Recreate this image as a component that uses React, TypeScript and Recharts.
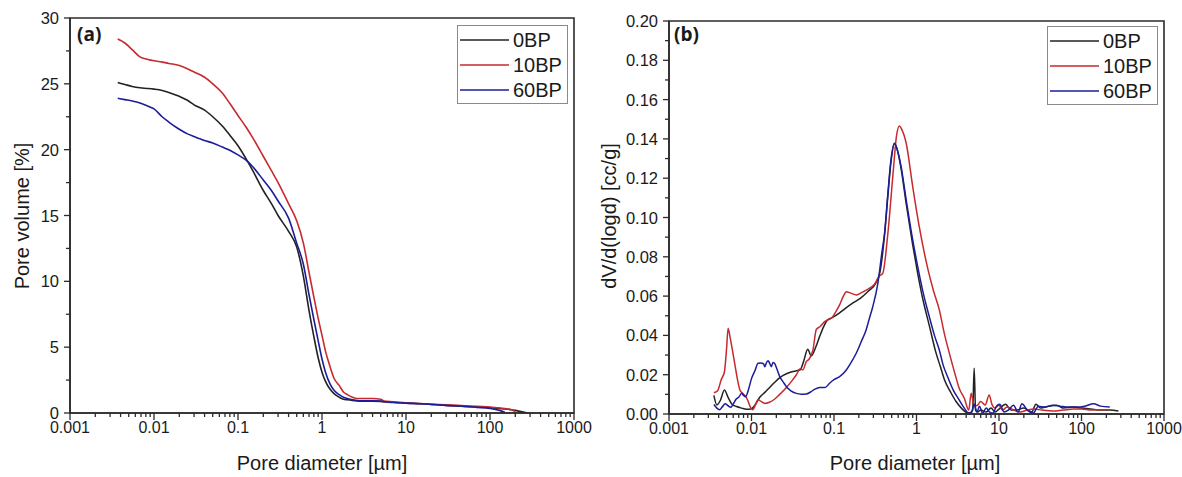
import { LineChart, Line, XAxis, YAxis, ReferenceArea, Legend } from "recharts";

const FONT = "'Liberation Sans', Arial, Helvetica, sans-serif";
const AXIS = "#2b2b2b";
const SERIES = ["0BP", "10BP", "60BP"];
const COLORS = ["#222222", "#c62a2f", "#1d1d9b"];

// log axis ticks
const xMajor = [0.001, 0.01, 0.1, 1, 10, 100, 1000];
const xMinor = [
  0.002, 0.003, 0.004, 0.005, 0.006, 0.007, 0.008, 0.009,
  0.02, 0.03, 0.04, 0.05, 0.06, 0.07, 0.08, 0.09,
  0.2, 0.3, 0.4, 0.5, 0.6, 0.7, 0.8, 0.9,
  2, 3, 4, 5, 6, 7, 8, 9,
  20, 30, 40, 50, 60, 70, 80, 90,
  200, 300, 400, 500, 600, 700, 800, 900,
];
const xTicks = [...xMajor, ...xMinor].sort((a, b) => a - b);

const yMajorA = [0, 5, 10, 15, 20, 25, 30];
const yMinorA = [2.5, 7.5, 12.5, 17.5, 22.5, 27.5];
const yMajorB = [0, 0.02, 0.04, 0.06, 0.08, 0.1, 0.12, 0.14, 0.16, 0.18, 0.2];
const yMinorB = [0.01, 0.03, 0.05, 0.07, 0.09, 0.11, 0.13, 0.15, 0.17, 0.19];

// (a) cumulative pore volume [%]
const diamA = [
  0.0037, 0.0045, 0.0055, 0.0068, 0.0085, 0.01, 0.0125, 0.015, 0.02, 0.025,
  0.03, 0.04, 0.05, 0.065, 0.08, 0.1, 0.125, 0.15, 0.2, 0.25,
  0.3, 0.4, 0.5, 0.6, 0.7, 0.8, 0.9, 1.0, 1.1, 1.25,
  1.4, 1.6, 1.8, 2.0, 2.3, 2.6, 3, 4, 5, 5.5,
  7, 10, 15, 20, 30, 50, 70, 100, 130, 150,
  180, 200, 240, 280,
];
const volA_0BP = [
  25.1, 24.95, 24.8, 24.7, 24.65, 24.6, 24.5, 24.35, 24.05, 23.75,
  23.4, 23.0, 22.5, 21.8, 21.1, 20.3, 19.3, 18.4, 16.9, 15.9,
  15.0, 13.8, 12.6, 10.4, 7.8, 5.8, 4.2, 3.1, 2.4, 1.8,
  1.45, 1.2, 1.05, 1.0, 0.95, 0.92, 0.9, 0.9, 0.88, 0.85,
  0.82, 0.75, 0.7, 0.65, 0.58, 0.5, 0.45, 0.4, 0.35, 0.3,
  0.25, 0.2, 0.1, 0.0,
];
const volA_10BP = [
  28.4, 28.1, 27.6, 27.05, 26.85, 26.75, 26.65, 26.55, 26.4, 26.15,
  25.9, 25.5, 25.0, 24.3, 23.5, 22.6, 21.7, 20.9, 19.5, 18.4,
  17.5, 15.9, 14.6, 12.9, 10.7, 8.8, 7.2, 5.9, 4.7, 3.5,
  2.6, 2.1, 1.6, 1.4, 1.2, 1.1, 1.1, 1.1, 1.05, 0.9,
  0.85, 0.78, 0.72, 0.68, 0.62, 0.55, 0.5, 0.45, 0.38, 0.33,
  0.25, 0.1, null, null,
];
const volA_60BP = [
  23.9, 23.8, 23.7, 23.55, 23.3, 23.1, 22.5, 22.1, 21.55, 21.2,
  21.0, 20.7, 20.5, 20.2, 19.95, 19.6, 19.2, 18.7, 17.7, 16.9,
  16.1, 14.8, 12.9, 11.3, 9.0, 7.1, 5.5, 4.1, 3.1, 2.2,
  1.7, 1.4, 1.2, 1.1, 1.0, 0.95, 0.92, 0.92, 0.9, 0.85,
  0.8, 0.75, 0.7, 0.65, 0.58, 0.5, 0.43, 0.35, 0.2, 0.05,
  null, null, null, null,
];

// (b) dV/d(logd) [cc/g]
const diamB_0BP = [
  0.0035, 0.0038, 0.0042, 0.0047, 0.0052, 0.0058, 0.0066, 0.0076, 0.0087, 0.0098,
  0.011, 0.0126, 0.0145, 0.0166, 0.019, 0.022, 0.0265, 0.031, 0.035, 0.039,
  0.043, 0.048, 0.053, 0.06, 0.067, 0.075, 0.082, 0.095, 0.117, 0.14,
  0.17, 0.21, 0.26, 0.32, 0.36, 0.41, 0.45, 0.49, 0.54, 0.58,
  0.65, 0.75, 0.9, 1.03, 1.2, 1.43, 1.7, 1.95, 2.2, 2.6,
  3.0, 3.5, 4.2, 4.6, 4.8, 5.0, 5.2, 5.5, 6.0, 7,
  8, 9, 10, 12, 14, 16, 20, 25, 28, 32,
  40, 50, 60, 80, 100, 130, 170, 220, 280,
];
const dvB_0BP = [
  0.0095, 0.0046, 0.007, 0.0122, 0.0085, 0.005, 0.0038, 0.003, 0.0024, 0.0025,
  0.0045, 0.0085, 0.011, 0.0135, 0.016, 0.0185, 0.0205, 0.0215, 0.022, 0.0225,
  0.027, 0.033, 0.0295, 0.034, 0.0395, 0.0445, 0.0475, 0.049, 0.0515, 0.054,
  0.0565, 0.059, 0.0625, 0.0665, 0.072, 0.091, 0.111, 0.128, 0.1375, 0.135,
  0.125, 0.107, 0.086, 0.072, 0.058, 0.045, 0.032, 0.024, 0.017, 0.011,
  0.0065, 0.003, 0.0005, 0.001, 0.002, 0.0233, 0.002, 0.001, 0.002, 0.001,
  0.003, 0.001, 0.0025, 0.005, 0.002, 0.002, 0.003, 0.001, 0.005, 0.003,
  0.004, 0.0045, 0.003, 0.0035, 0.003, 0.0025, 0.002, 0.002, 0.0015,
];
const diamB_10BP = [
  0.0035, 0.0039, 0.0043, 0.0047, 0.005, 0.0052, 0.0055, 0.0059, 0.0063, 0.0068,
  0.0072, 0.0078, 0.0083, 0.009, 0.0097, 0.0104, 0.011, 0.012, 0.0133, 0.0145,
  0.0165, 0.019, 0.022, 0.0265, 0.031, 0.035, 0.039, 0.042, 0.046, 0.05,
  0.0556, 0.061, 0.068, 0.077, 0.085, 0.093, 0.105, 0.117, 0.13, 0.141,
  0.16, 0.186, 0.21, 0.245, 0.28, 0.31, 0.35, 0.39, 0.45, 0.52,
  0.57, 0.62, 0.66, 0.75, 0.9, 1.08, 1.37, 1.6, 1.89, 2.2,
  2.5, 2.9, 3.3, 3.8, 4.3, 4.6, 5.0, 5.5, 6.0, 6.8,
  7.6, 8.2, 9, 10, 11, 12.5, 15, 18, 22, 27,
  33, 45, 60, 80, 100, 130, 160, 200,
];
const dvB_10BP = [
  0.0108, 0.012, 0.0175, 0.0215, 0.034, 0.0436, 0.039, 0.032, 0.025, 0.017,
  0.0125, 0.0105, 0.0095, 0.007, 0.0035, 0.0022, 0.004, 0.0072, 0.0062, 0.0054,
  0.006, 0.0075, 0.01, 0.0135, 0.017, 0.02, 0.023, 0.0225, 0.0265, 0.028,
  0.0326, 0.043, 0.0445, 0.047, 0.048, 0.0487, 0.052, 0.0555, 0.06, 0.0622,
  0.0615, 0.0606, 0.0615, 0.063, 0.0645, 0.066, 0.07, 0.0716, 0.092, 0.1225,
  0.141, 0.1466, 0.145, 0.1378, 0.1157, 0.0953, 0.074, 0.063, 0.053, 0.04,
  0.031, 0.021, 0.013, 0.008, 0.002, 0.0105, 0.004, 0.0045, 0.0063, 0.0046,
  0.0097, 0.005, 0.003, 0.0045, 0.002, 0.0035, 0.002, 0.001, 0.002, 0.0025,
  0.002, 0.0015, 0.002, 0.0025, 0.0025, 0.002, 0.0022, 0.002,
];
const diamB_60BP = [
  0.0035, 0.0038, 0.0041, 0.0044, 0.0048, 0.0052, 0.0056, 0.006, 0.0065, 0.007,
  0.0076, 0.008, 0.0085, 0.0092, 0.01, 0.011, 0.012, 0.013, 0.014, 0.0145,
  0.0152, 0.0159, 0.0166, 0.0174, 0.0182, 0.019, 0.0205, 0.022, 0.0245, 0.0265,
  0.03, 0.035, 0.04, 0.046, 0.052, 0.058, 0.067, 0.078, 0.089, 0.1,
  0.117, 0.141, 0.16, 0.186, 0.215, 0.245, 0.27, 0.295, 0.34, 0.38,
  0.41, 0.45, 0.49, 0.54, 0.58, 0.65, 0.75, 0.9, 1.035, 1.2,
  1.43, 1.65, 1.89, 2.1, 2.38, 2.8, 3.3, 3.8, 4.2, 4.6,
  5.0, 5.4, 5.8, 6.3, 7, 7.7, 8.5, 9.3, 10.2, 11.5,
  13, 15, 17, 19, 22, 26, 30, 36, 45, 55,
  70, 90, 110, 140, 170, 220,
];
const dvB_60BP = [
  0.0048, 0.003, 0.0022, 0.0035, 0.0052, 0.0042, 0.0034, 0.005, 0.0075, 0.0085,
  0.0105, 0.0095, 0.0088, 0.0125, 0.018, 0.022, 0.0258, 0.026, 0.0255, 0.0241,
  0.0262, 0.0271, 0.0258, 0.0241, 0.0262, 0.0258, 0.0225, 0.019, 0.016, 0.0139,
  0.0118, 0.0105, 0.0101, 0.0102, 0.0112, 0.0125, 0.0135, 0.0135, 0.0158, 0.0175,
  0.019, 0.0224, 0.026, 0.0309, 0.037, 0.0428, 0.049, 0.0546, 0.0665, 0.082,
  0.092, 0.1123, 0.1293, 0.1378, 0.135, 0.126, 0.109, 0.0886, 0.075, 0.062,
  0.0495, 0.04, 0.0326, 0.025, 0.019, 0.012, 0.0071, 0.003, 0.0007, 0.0005,
  0.005, 0.001, 0.004, 0.0005, 0.003, 0.001, 0.0005, 0.004, 0.005, 0.001,
  0.002, 0.0045, 0.001, 0.0052, 0.002, 0.0005, 0.004, 0.0035, 0.0045, 0.004,
  0.0035, 0.0035, 0.004, 0.0052, 0.004, 0.0035,
];

const rowsA = diamA.map((d, i) => ({
  d,
  b0: volA_0BP[i],
  b10: volA_10BP[i],
  b60: volA_60BP[i],
}));
const toRows = (ds: number[], vs: number[]) => ds.map((d, i) => ({ d, v: vs[i] }));
const seriesB = [
  toRows(diamB_0BP, dvB_0BP),
  toRows(diamB_10BP, dvB_10BP),
  toRows(diamB_60BP, dvB_60BP),
];

const isIn = (list: number[], v: number) =>
  list.some((m) => Math.abs(m - v) <= Math.abs(m) * 1e-6 + 1e-9);

function XTick(props: any) {
  const { x, y, payload } = props;
  const major = isIn(xMajor, payload.value);
  return (
    <g>
      <line x1={x} x2={x} y1={y} y2={y + (major ? 7 : 4)} stroke={AXIS} strokeWidth={1.3} />
      {major && (
        <text x={x} y={y + 20} textAnchor="middle" fontSize={16} fontFamily={FONT} fill="#1a1a1a">
          {String(payload.value)}
        </text>
      )}
    </g>
  );
}

const makeYTick = (majors: number[], fmt: (v: number) => string) =>
  function YTick(props: any) {
    const { x, y, payload } = props;
    const major = isIn(majors, payload.value);
    return (
      <g>
        <line x1={x - (major ? 6 : 4)} x2={x} y1={y} y2={y} stroke={AXIS} strokeWidth={1.3} />
        {major && (
          <text x={x - 11} y={y + 6} textAnchor="end" fontSize={16.5} fontFamily={FONT} fill="#1a1a1a">
            {fmt(payload.value)}
          </text>
        )}
      </g>
    );
  };

const YTickA = makeYTick(yMajorA, (v) => String(v));
const YTickB = makeYTick(yMajorB, (v) => v.toFixed(2));

function LegendBox() {
  return (
    <svg width={111} height={79} style={{ display: "block" }}>
      <rect x={0.5} y={0.5} width={110} height={78} fill="#fff" stroke="#8a8a8a" />
      {SERIES.map((s, i) => (
        <g key={s}>
          <line x1={3} x2={52} y1={15 + 25 * i} y2={15 + 25 * i} stroke={COLORS[i]} strokeWidth={1.6} />
          <text x={56} y={22 + 25 * i} fontSize={20} fontFamily={FONT} fill="#1a1a1a">
            {s}
          </text>
        </g>
      ))}
    </svg>
  );
}

const xTitle = (cx: number) => () =>
  (
    <text x={cx} y={470} textAnchor="middle" fontSize={20} fontFamily={FONT} fill="#1a1a1a">
      Pore diameter [µm]
    </text>
  );

const yTitle = (bx: number, title: string, tag: string, tagX: number) => () =>
  (
    <g>
      <text
        x={bx}
        y={216}
        transform={`rotate(-90 ${bx} 216)`}
        textAnchor="middle"
        fontSize={20}
        fontFamily={FONT}
        fill="#1a1a1a"
      >
        {title}
      </text>
      <text x={tagX} y={41} fontSize={19} fontWeight="bold" fontFamily="'Open Sans', 'DejaVu Sans', sans-serif" fill="#1a1a1a">
        {tag}
      </text>
    </g>
  );

const axisLine = { stroke: AXIS, strokeWidth: 1.6 };

function PanelA() {
  return (
    <LineChart width={600} height={477} data={rowsA} margin={{ top: 18, right: 26, bottom: 0, left: 0 }}>
      <XAxis
        dataKey="d"
        type="number"
        scale="log"
        domain={[0.001, 1000]}
        allowDataOverflow
        ticks={xTicks}
        interval={0}
        tick={<XTick />}
        tickLine={false}
        tickSize={0}
        tickMargin={0}
        height={64}
        axisLine={axisLine}
        label={xTitle(322)}
      />
      <YAxis
        type="number"
        domain={[0, 30]}
        allowDataOverflow
        ticks={[...yMajorA, ...yMinorA].sort((a, b) => a - b)}
        interval={0}
        tick={<YTickA />}
        tickLine={false}
        tickSize={0}
        tickMargin={0}
        width={70}
        axisLine={axisLine}
        label={yTitle(29, "Pore volume [%]", "(a)", 77)}
      />
      <ReferenceArea x1={0.001} x2={1000} y1={0} y2={30} fill="none" fillOpacity={0} stroke={AXIS} strokeWidth={1.6} />
      <Line dataKey="b0" name="0BP" type="monotone" stroke={COLORS[0]} strokeWidth={1.6} dot={false} isAnimationActive={false} />
      <Line dataKey="b10" name="10BP" type="monotone" stroke={COLORS[1]} strokeWidth={1.6} dot={false} isAnimationActive={false} />
      <Line dataKey="b60" name="60BP" type="monotone" stroke={COLORS[2]} strokeWidth={1.6} dot={false} isAnimationActive={false} />
      <Legend
        layout="vertical"
        align="center"
        verticalAlign="middle"
        content={() => <LegendBox />}
        wrapperStyle={{ left: 457, top: 25, width: 111, height: 79 }}
      />
    </LineChart>
  );
}

function PanelB() {
  return (
    <LineChart width={592} height={477} margin={{ top: 21, right: 18, bottom: 0, left: 0 }}>
      <XAxis
        dataKey="d"
        type="number"
        scale="log"
        domain={[0.001, 1000]}
        allowDataOverflow
        ticks={xTicks}
        interval={0}
        tick={<XTick />}
        tickLine={false}
        tickSize={0}
        tickMargin={0}
        height={63}
        axisLine={axisLine}
        label={xTitle(325)}
      />
      <YAxis
        type="number"
        domain={[0, 0.2]}
        allowDataOverflow
        ticks={[...yMajorB, ...yMinorB].sort((a, b) => a - b)}
        interval={0}
        tick={<YTickB />}
        tickLine={false}
        tickSize={0}
        tickMargin={0}
        width={79}
        axisLine={axisLine}
        label={yTitle(26, "dV/d(logd) [cc/g]", "(b)", 84)}
      />
      <ReferenceArea x1={0.001} x2={1000} y1={0} y2={0.2} fill="none" fillOpacity={0} stroke={AXIS} strokeWidth={1.6} />
      {seriesB.map((rows, i) => (
        <Line
          key={SERIES[i]}
          data={rows}
          dataKey="v"
          name={SERIES[i]}
          type="monotone"
          stroke={COLORS[i]}
          strokeWidth={1.5}
          dot={false}
          isAnimationActive={false}
        />
      ))}
      <Legend
        layout="vertical"
        align="center"
        verticalAlign="middle"
        content={() => <LegendBox />}
        wrapperStyle={{ left: 457, top: 26, width: 111, height: 79 }}
      />
    </LineChart>
  );
}

export default function App() {
  return (
    <div style={{ position: "absolute", left: 0, top: 0, width: 1182, height: 477, background: "#fff", fontFamily: FONT }}>
      <div style={{ position: "absolute", left: 0, top: 0 }}>
        <PanelA />
      </div>
      <div style={{ position: "absolute", left: 590, top: 0 }}>
        <PanelB />
      </div>
    </div>
  );
}
